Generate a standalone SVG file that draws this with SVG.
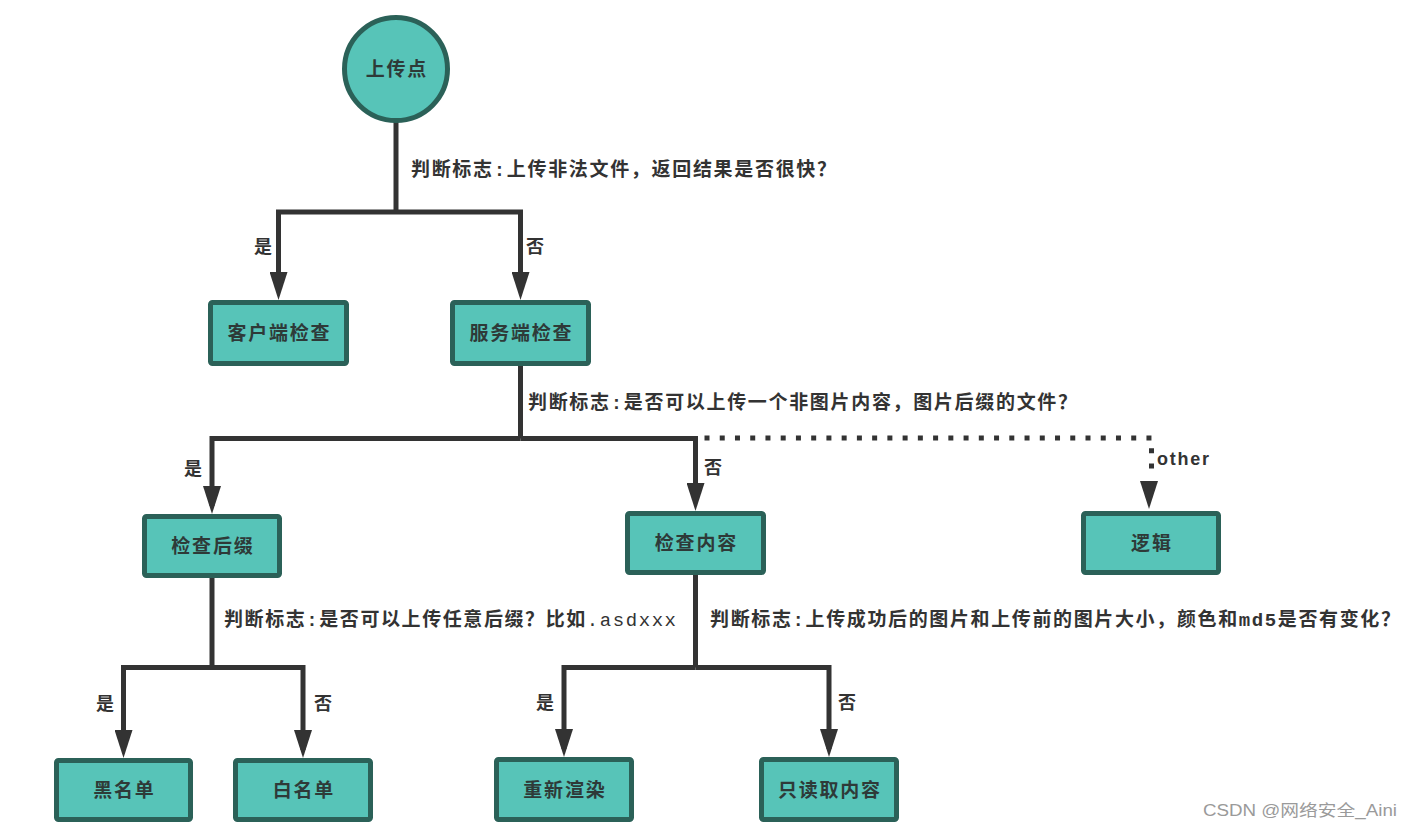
<svg xmlns="http://www.w3.org/2000/svg" width="1411" height="829" viewBox="0 0 1411 829">
<style>
.node{fill:#57c4b8;stroke:#2b6158;stroke-width:5}
.nt{font-family:"Noto Sans CJK SC","Liberation Sans",sans-serif;font-size:19px;font-weight:700;fill:#2e3a38;text-anchor:middle;letter-spacing:1.8px}
.ln{fill:none;stroke:#333;stroke-width:5;stroke-linejoin:miter}
.dot{fill:none;stroke:#333;stroke-width:5;stroke-dasharray:5 10.24}
.lbl{font-family:"Liberation Mono","Noto Sans CJK SC",monospace;font-size:19px;font-weight:700;fill:#333}
.yn{font-family:"Noto Sans CJK SC","Liberation Sans",sans-serif;font-size:18px;font-weight:700;fill:#333;text-anchor:middle}
.oth{font-family:"Liberation Sans",Arial,sans-serif;font-size:18px;font-weight:700;fill:#333}
.wm{font-family:"Liberation Sans","Noto Sans CJK SC",sans-serif;font-size:16px;fill:#9a9a9a}
</style>
<defs>
<marker id="arr" markerUnits="userSpaceOnUse" viewBox="0 0 28 18" markerWidth="28" markerHeight="18" refX="20" refY="9" orient="auto">
<path d="M0,0 L28,9 L0,18 z" fill="#333"/>
</marker>
</defs>
<rect width="1411" height="829" fill="#fff"/>
<g id="connectors">
<path class="ln" d="M396,121 V212"/>
<path class="ln" d="M396,212 H278.5 V292" marker-end="url(#arr)"/>
<path class="ln" d="M396,212 H520.5 V292" marker-end="url(#arr)"/>
<path class="ln" d="M520.5,366 V438.5"/>
<path class="ln" d="M520.5,438.5 H212 V506" marker-end="url(#arr)"/>
<path class="ln" d="M520.5,438.5 H695.5 V503" marker-end="url(#arr)"/>
<path class="dot" d="M704.5,438 H1151.5 V472"/>
<polygon points="1140,481 1158,481 1149,509" fill="#333"/>
<path class="ln" d="M212,578 V667.5"/>
<path class="ln" d="M212,667.5 H123.5 V750" marker-end="url(#arr)"/>
<path class="ln" d="M212,667.5 H303 V750" marker-end="url(#arr)"/>
<path class="ln" d="M695.5,575 V667.5"/>
<path class="ln" d="M695.5,667.5 H564 V749" marker-end="url(#arr)"/>
<path class="ln" d="M695.5,667.5 H829 V749" marker-end="url(#arr)"/>
<text class="lbl" x="411" y="175.5" textLength="425" lengthAdjust="spacing">判断标志:上传非法文件，返回结果是否很快？</text>
<text class="lbl" x="528" y="408.5" textLength="549" lengthAdjust="spacing">判断标志:是否可以上传一个非图片内容，图片后缀的文件？</text>
<text class="lbl" x="224" y="626" textLength="452" lengthAdjust="spacing">判断标志:是否可以上传任意后缀？比如<tspan font-weight="400">.asdxxx</tspan></text>
<text class="lbl" x="710" y="626" textLength="690" lengthAdjust="spacing">判断标志:上传成功后的图片和上传前的图片大小，颜色和md5是否有变化？</text>
<text class="yn" x="263" y="252.5">是</text>
<text class="yn" x="535" y="252.5">否</text>
<text class="yn" x="193" y="474.5">是</text>
<text class="yn" x="713" y="473.5">否</text>
<text class="oth" x="1157" y="465" textLength="52" lengthAdjust="spacing">other</text>
<text class="yn" x="105" y="709.5">是</text>
<text class="yn" x="323" y="709.5">否</text>
<text class="yn" x="545" y="708.5">是</text>
<text class="yn" x="847" y="708.5">否</text>
</g>
<g id="n-upload">
<circle class="node" cx="396" cy="69" r="51.5"/>
<text class="nt" x="396.9" y="76">上传点</text>
</g>
<g id="n-client">
<rect class="node" x="210.5" y="302.5" width="136" height="61" rx="2"/>
<text class="nt" x="279.4" y="340">客户端检查</text>
</g>
<g id="n-server">
<rect class="node" x="452.5" y="302.5" width="136" height="61" rx="2"/>
<text class="nt" x="521.4" y="340">服务端检查</text>
</g>
<g id="n-suffix">
<rect class="node" x="144.5" y="516.5" width="135" height="59" rx="2"/>
<text class="nt" x="212.9" y="553">检查后缀</text>
</g>
<g id="n-content">
<rect class="node" x="627.5" y="513.5" width="136" height="59" rx="2"/>
<text class="nt" x="696.4" y="550">检查内容</text>
</g>
<g id="n-logic">
<rect class="node" x="1083.5" y="513.5" width="135" height="59" rx="2"/>
<text class="nt" x="1151.9" y="550">逻辑</text>
</g>
<g id="n-black">
<rect class="node" x="56.5" y="760.5" width="134" height="59" rx="2"/>
<text class="nt" x="124.4" y="797">黑名单</text>
</g>
<g id="n-white">
<rect class="node" x="235.5" y="760.5" width="135" height="59" rx="2"/>
<text class="nt" x="303.9" y="797">白名单</text>
</g>
<g id="n-rerender">
<rect class="node" x="496.5" y="759.5" width="135" height="60" rx="2"/>
<text class="nt" x="564.9" y="796.5">重新渲染</text>
</g>
<g id="n-readonly">
<rect class="node" x="761.5" y="759.5" width="135" height="60" rx="2"/>
<text class="nt" x="829.9" y="796.5">只读取内容</text>
</g>
<text class="wm" x="1203" y="816" textLength="194" lengthAdjust="spacingAndGlyphs">CSDN @网络安全_Aini</text>
</svg>
